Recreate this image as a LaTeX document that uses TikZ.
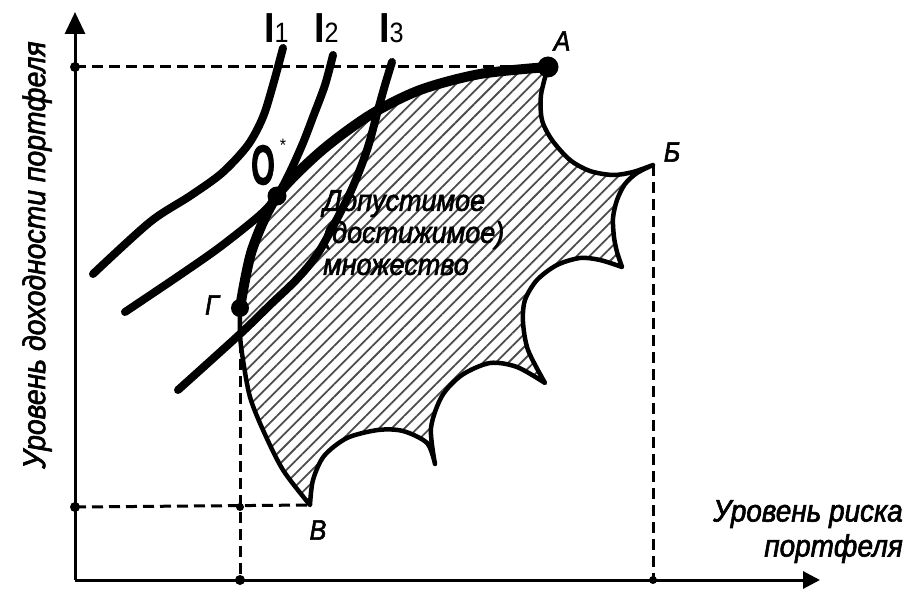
\documentclass[tikz,border=0pt]{standalone}
\usepackage{fontspec}
\setmainfont{Liberation Sans}[FakeStretch=0.9]
\newfontfamily\heavyfont{Liberation Sans}[FakeStretch=0.9,FakeBold=2]
\usepackage{graphicx}
\usetikzlibrary{arrows.meta,patterns.meta}
\begin{document}
\begin{tikzpicture}[x=1pt,y=-1pt,
  axis/.style={line width=3pt},
  guide/.style={line width=3pt,dash pattern=on 11pt off 6pt},
  bound/.style={line width=4.5pt,line join=round},
  front/.style={line width=10pt,line cap=round},
  indiff/.style={line width=8pt,line cap=round},
  bigdot/.style={circle,fill=black,inner sep=0pt,minimum size=#1},
  lab/.style={font=\fontsize{28}{28}\heavyfont\itshape,inner sep=0pt},
  ilab/.style={anchor=base west,inner sep=0pt},
  txt/.style={font=\fontsize{30}{32}\heavyfont\itshape,inner sep=0pt,text=black},
]
\useasboundingbox (0,0) rectangle (905,591);
% key points
\coordinate (O) at (75,580);
\coordinate (Ytop) at (75,12);
\coordinate (Xend) at (820,580);
\coordinate (A) at (548,67);
\coordinate (B) at (653,165);
\coordinate (V) at (310,505);
\coordinate (G) at (240,308);
\coordinate (Q) at (277,196);
\coordinate (C1) at (622,267);
\coordinate (C2) at (545,383);
\coordinate (C3) at (435,464);
\coordinate (yA) at (75,67);
\coordinate (yV) at (75,507);
\coordinate (gV) at (240,507);
\coordinate (xG) at (240,580);
\coordinate (xB) at (653,580);

% feasible set
\draw[bound,pattern={Lines[angle=45,distance=9pt,line width=1.8pt]},pattern color=black!70]
  (G) -- plot[smooth] coordinates {(G)(252,250)(Q)(320,152)(370,115)(420,90)(480,74)(A)}
  -- plot[smooth] coordinates {(A)(541,95)(542,120)(552,140)(570,160)(590,171)(613,175)(633,172)(B)}
  -- plot[smooth] coordinates {(B)(637,173)(625,184)(617,200)(613,218)(614,237)(617,252)(C1)}
  -- plot[smooth] coordinates {(C1)(600,260)(580,258)(557,265)(537,280)(525,300)(523,322)(528,350)(C2)}
  -- plot[smooth] coordinates {(C2)(517,367)(490,363)(462,375)(442,396)(431,428)(C3)}
  -- plot[smooth] coordinates {(C3)(427,443)(403,431)(378,430)(347,438)(324,456)(313,480)(V)}
  -- plot[smooth] coordinates {(V)(283,470)(263,430)(250,397)(243,360)(240,335)(G)}
  -- cycle;

% guides
\draw[guide] (yA) -- (A);
\draw[guide] (yV) -- (V);
\draw[guide] (G) -- (xG);
\draw[guide] (B) -- (xB);

% axes
\draw[axis,-{Triangle[length=22pt,width=20pt]}] (O) -- (Ytop);
\draw[axis,-{Triangle[length=17pt,width=17pt]}] (O) -- (Xend);

% efficient frontier
\draw[front] plot[smooth] coordinates {(G)(252,250)(Q)(320,152)(370,115)(420,90)(480,74)(A)};

% indifference curves
\coordinate (i1s) at (283,48); \coordinate (i1e) at (93,274);
\coordinate (i2s) at (333,55); \coordinate (i2e) at (125,312);
\coordinate (i3s) at (392,62); \coordinate (i3e) at (178,390);
\draw[indiff] plot[smooth] coordinates {(i1s)(273,85)(263,117)(248,145)(222,173)(190,196)(150,222)(i1e)};
\draw[indiff] plot[smooth] coordinates {(i2s)(325,85)(313,117)(303,143)(290,172)(Q)(260,215)(220,247)(180,275)(i2e)};
\draw[indiff] plot[smooth] coordinates {(i3s)(385,85)(378,110)(367,150)(350,193)(320,250)(298,278)(270,305)(240,334)(i3e)};

% dots
\node[bigdot=21pt] (dA) at (A) {};
\node[bigdot=18pt] (dG) at (G) {};
\node[bigdot=19pt] (dQ) at (Q) {};
\node[bigdot=10pt] (dyA) at (yA) {};
\node[bigdot=10pt] (dyV) at (yV) {};
\node[bigdot=8pt] (dgV) at (gV) {};
\node[bigdot=10pt] (dxG) at (xG) {};
\node[bigdot=8pt] (dxB) at (xB) {};

% labels
\node[lab] (lA) at (562,41) {A};
\node[lab] (lB) at (672,152) {Б};
\node[lab] (lV) at (318,530) {В};
\node[lab] (lG) at (212,305) {Г};
\node[inner sep=0pt] (lQ) at (263,165) {\scalebox{0.6}[1]{\fontsize{56}{56}\heavyfont\bfseries O}};
\node[inner sep=0pt] (lQs) at (283,145) {\fontsize{18}{18}\selectfont *};
\node[ilab] (l1) at (264,43) {\fontsize{42}{42}\selectfont\bfseries I\fontsize{28}{28}\selectfont\mdseries 1};
\node[ilab] (l2) at (314,43) {\fontsize{42}{42}\selectfont\bfseries I\fontsize{28}{28}\selectfont\mdseries 2};
\node[ilab] (l3) at (379,43) {\fontsize{42}{42}\selectfont\bfseries I\fontsize{28}{28}\selectfont\mdseries 3};
\node[txt,anchor=north west,align=left] (set) at (323,190) {Допустимое\\(достижимое)\\множество};
\node[txt,rotate=90,font=\fontsize{31.5}{32}\heavyfont\itshape] (ylab) at (37,255) {Уровень доходности портфеля};
\node[txt,anchor=north east,align=right,font=\fontsize{31}{35}\heavyfont\itshape] (xlab) at (903,500) {Уровень риска\\портфеля};
\end{tikzpicture}
\end{document}
